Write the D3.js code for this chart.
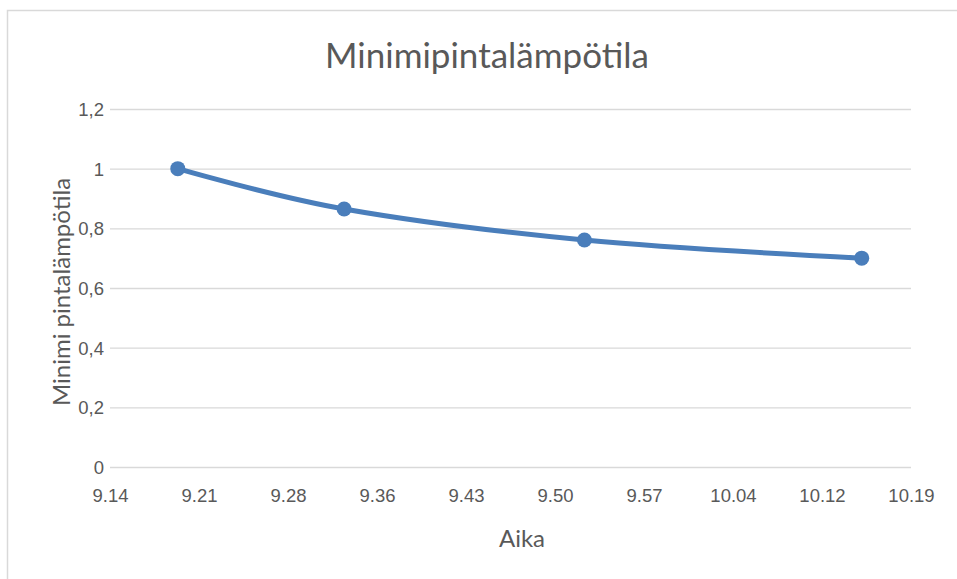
<!DOCTYPE html>
<html><head><meta charset="utf-8">
<script src="https://cdn.jsdelivr.net/npm/d3@7"></script>
<style>
html,body{margin:0;padding:0;background:#fff;}
svg{display:block;font-family:Lato,"Open Sans",sans-serif;}
</style></head>
<body>
<svg id="c" width="957" height="579"></svg>
<script>
// Data (x in minutes since midnight)
const xValues = [559.5, 573, 592.5, 615];
const yValues = [1.0, 0.865, 0.761, 0.70];
const xTickLabels = ["9.14","9.21","9.28","9.36","9.43","9.50","9.57","10.04","10.12","10.19"];
const yTicks = [0, 0.2, 0.4, 0.6, 0.8, 1.0, 1.2];
const xDomain = [554, 619];
const title = "Minimipintalämpötila";
const xTitle = "Aika";
const yTitle = "Minimi pintalämpötila";

const svg = d3.select("#c");
const m = {left:110, right:957-911, top:109, bottom:579-467};
const W = 957, H = 579;
const x = d3.scaleLinear().domain(xDomain).range([m.left, W - m.right]);
const y = d3.scaleLinear().domain([0, 1.2]).range([H - m.bottom, m.top]);
const fi = d3.formatLocale({decimal:",", thousands:" ", grouping:[3], currency:["","€"]});
const yFmt = v => v === 0 ? "0" : (Math.abs(v-1) < 1e-9 ? "1" : fi.format(".1f")(v));

// Frame
svg.append("path").attr("d", `M7.5,${H}V10.5H${W}`).attr("fill","none").attr("stroke","#d9d9d9").attr("stroke-width",1.5);

// Gridlines
const yAxis = d3.axisLeft(y).tickValues(yTicks).tickSize(-(W - m.left - m.right)).tickPadding(6).tickFormat(yFmt);
const gy = svg.append("g").attr("transform",`translate(${m.left},0)`).call(yAxis);
gy.select(".domain").remove();
gy.selectAll(".tick line").attr("stroke","#d9d9d9").attr("stroke-width",1.3);
gy.selectAll(".tick text").attr("fill","#595959").style("font-size","18.5px").attr("dy","0.35em");

const step = (xDomain[1]-xDomain[0])/(xTickLabels.length-1);
const xTickVals = xTickLabels.map((d,i)=>xDomain[0]+i*step);
const xAxis = d3.axisBottom(x).tickValues(xTickVals).tickSize(0).tickPadding(22).tickFormat((d,i)=>xTickLabels[i]);
const gx = svg.append("g").attr("transform",`translate(0,${H - m.bottom})`).call(xAxis);
gx.select(".domain").remove();
gx.selectAll(".tick text").attr("fill","#595959").style("font-size","18.5px");

// Titles
svg.append("text").attr("x", 487).attr("y", 68).attr("text-anchor","middle").attr("fill","#595959").style("font-size","35px").text(title);
svg.append("text").attr("x", 522).attr("y", 547).attr("text-anchor","middle").attr("fill","#595959").style("font-size","24px").text(xTitle);
svg.append("text").attr("transform","translate(70,292) rotate(-90)").attr("text-anchor","middle").attr("fill","#595959").style("font-size","24px").text(yTitle);

// Line
const pts = xValues.map((d,i)=>[d, yValues[i]]);
const line = d3.line().x(d=>x(d[0])).y(d=>y(d[1])).curve(d3.curveCatmullRom.alpha(0));
svg.append("path").datum(pts).attr("d", line).attr("fill","none").attr("stroke","#4a7ebb").attr("stroke-width",5).attr("stroke-linecap","round");
svg.selectAll("circle.pt").data(pts).join("circle").attr("class","pt")
  .attr("cx",d=>x(d[0])).attr("cy",d=>y(d[1])).attr("r",7.5).attr("fill","#4a7ebb");
</script>
</body></html>
